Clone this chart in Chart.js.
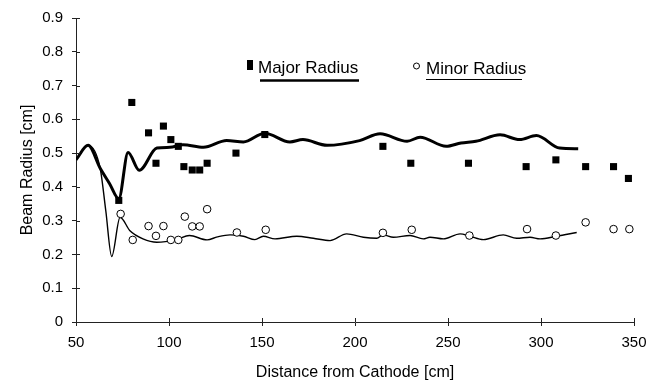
<!DOCTYPE html>
<html>
<head>
<meta charset="utf-8">
<script src="https://cdn.jsdelivr.net/npm/chart.js@4.4.1/dist/chart.umd.min.js"></script>
<style>
  html, body { margin: 0; padding: 0; background: #fff; }
</style>
</head>
<body>
<canvas id="chart" width="664" height="383"></canvas>
<script>
// Measured points
const majorX = [73, 80, 89, 93, 97, 101, 105, 108, 112.5, 116.5, 120.5, 136, 151.5, 215, 230, 261, 292, 308, 324, 339, 347];
const majorR = [0.36, 0.65, 0.56, 0.47, 0.58, 0.54, 0.52, 0.46, 0.45, 0.45, 0.47, 0.50, 0.555, 0.52, 0.47, 0.47, 0.46, 0.48, 0.46, 0.46, 0.425];
const minorX = [74, 80.5, 89, 93, 97, 101, 105, 108.5, 112.5, 116.5, 120.5, 136.5, 152, 215, 230.5, 261.5, 292.5, 308, 324, 339, 347.5];
const minorR = [0.32, 0.243, 0.284, 0.255, 0.284, 0.243, 0.243, 0.312, 0.283, 0.283, 0.334, 0.265, 0.273, 0.264, 0.273, 0.256, 0.275, 0.256, 0.295, 0.275, 0.275];

// Simulated envelopes
const simMajorX = [50, 56.5, 63, 68, 73, 78, 84, 93.5, 100.5, 107.5, 118.5, 131, 140, 151.5, 165, 172, 185, 202.5, 213.5, 228, 235, 249, 257, 265, 278, 288.5, 297.5, 310, 320];
const simMajorR = [0.48, 0.523, 0.455, 0.41, 0.365, 0.502, 0.449, 0.515, 0.517, 0.525, 0.517, 0.537, 0.533, 0.559, 0.533, 0.54, 0.523, 0.537, 0.557, 0.535, 0.547, 0.52, 0.53, 0.535, 0.554, 0.54, 0.552, 0.515, 0.513];
const simMinorX = [50, 56.5, 63, 66, 69.2, 73.7, 79, 86, 93.5, 104, 111, 120.5, 126, 132.8, 140, 146.2, 150.7, 157, 168.7, 177.6, 186.6, 195.5, 204.5, 211.7, 215.2, 220.6, 229.6, 236.7, 240.3, 247.5, 256.5, 261.8, 269, 279.7, 286.9, 294.1, 299.5, 308.4, 319.2];
const simMinorR = [0.48, 0.523, 0.455, 0.33, 0.194, 0.31, 0.27, 0.246, 0.236, 0.244, 0.256, 0.243, 0.252, 0.258, 0.254, 0.244, 0.254, 0.246, 0.254, 0.248, 0.241, 0.261, 0.251, 0.248, 0.258, 0.251, 0.256, 0.246, 0.251, 0.246, 0.261, 0.254, 0.244, 0.258, 0.248, 0.251, 0.246, 0.254, 0.265];

// Axes
const xTicks = [50, 100, 150, 200, 250, 300, 350];
const yTicks = [0, 0.1, 0.2, 0.3, 0.4, 0.5, 0.6, 0.7, 0.8, 0.9];
const yTickLabels = ['0', '0.1', '0.2', '0.3', '0.4', '0.5', '0.6', '0.7', '0.8', '0.9'];
const legendLabels = ['Major Radius', 'Minor Radius'];

const FONT = "'Liberation Sans', Arial, Helvetica, sans-serif";
const pts = (xs, ys) => xs.map((x, i) => ({ x, y: ys[i] }));

/* ticks that cross the axis line: draw the inner half */
const innerTicks = {
  id: 'innerTicks',
  afterDraw(chart) {
    const { ctx, chartArea: a, scales: { x, y } } = chart;
    ctx.save();
    ctx.strokeStyle = '#222';
    ctx.lineWidth = 1;
    ctx.beginPath();
    yTicks.forEach((v) => {
      const py = Math.round(y.getPixelForValue(v)) + 0.5;
      ctx.moveTo(a.left, py); ctx.lineTo(a.left + 4, py);
    });
    xTicks.forEach((v) => {
      const px = Math.round(x.getPixelForValue(v)) + 0.5;
      ctx.moveTo(px, a.bottom); ctx.lineTo(px, a.bottom - 4);
    });
    ctx.stroke();
    ctx.restore();
  },
};

/* legend: marker + label, underlined with the line style */
const markLegend = {
  id: 'markLegend',
  afterDraw(chart) {
    const ctx = chart.ctx;
    ctx.save();
    ctx.fillStyle = '#000';
    ctx.strokeStyle = '#000';
    ctx.font = '17px ' + FONT;
    ctx.textBaseline = 'alphabetic';
    // major
    ctx.fillRect(247, 60, 6, 10);
    ctx.fillText(legendLabels[0], 258, 73);
    ctx.lineWidth = 2.5;
    ctx.beginPath(); ctx.moveTo(260, 80.5); ctx.lineTo(359, 80.5); ctx.stroke();
    // minor
    ctx.lineWidth = 1;
    ctx.fillStyle = '#fff';
    ctx.beginPath(); ctx.arc(416.5, 66, 3, 0, Math.PI * 2); ctx.fill(); ctx.stroke();
    ctx.fillStyle = '#000';
    ctx.fillText(legendLabels[1], 426, 74);
    ctx.beginPath(); ctx.moveTo(426, 79.5); ctx.lineTo(522, 79.5); ctx.stroke();
    ctx.restore();
  },
};

new Chart(document.getElementById('chart'), {
  type: 'scatter',
  data: {
    datasets: [
      { label: legendLabels[0], data: pts(majorX, majorR), pointStyle: 'rect', pointRadius: 5,
        backgroundColor: '#000', borderColor: '#000', borderWidth: 0, order: 0 },
      { label: legendLabels[1], data: pts(minorX, minorR), pointStyle: 'circle', pointRadius: 3.8,
        backgroundColor: '#fff', borderColor: '#000', borderWidth: 1, order: 0 },
      { label: 'sim major', data: pts(simMajorX, simMajorR), showLine: true, pointRadius: 0,
        borderColor: '#000', borderWidth: 3, cubicInterpolationMode: 'monotone', order: 1 },
      { label: 'sim minor', data: pts(simMinorX, simMinorR), showLine: true, pointRadius: 0,
        borderColor: '#000', borderWidth: 1.4, cubicInterpolationMode: 'monotone', order: 1 },
    ],
  },
  options: {
    responsive: false,
    animation: false,
    devicePixelRatio: 1,
    layout: { padding: { left: 0, top: 16, right: 30, bottom: 0 } },
    plugins: { legend: { display: false }, tooltip: { enabled: false } },
    scales: {
      x: {
        type: 'linear', min: 50, max: 350,
        afterBuildTicks: (s) => { s.ticks = xTicks.map((v) => ({ value: v })); },
        afterFit: (s) => { s.height = 61; },
        grid: { display: true, drawOnChartArea: false, tickLength: 4, color: '#222' },
        border: { color: '#222', width: 1 },
        ticks: { color: '#000', padding: 8, maxRotation: 0, font: { family: FONT, size: 15 },
          callback: (v) => String(v) },
        title: { display: true, text: 'Distance from Cathode [cm]', color: '#000',
          font: { family: FONT, size: 16 }, padding: { top: 0, bottom: 1 } },
      },
      y: {
        type: 'linear', min: 0, max: 0.9,
        afterBuildTicks: (s) => { s.ticks = yTicks.map((v) => ({ value: v })); },
        afterFit: (s) => { s.width = 76; },
        grid: { display: true, drawOnChartArea: false, tickLength: 4, color: '#222' },
        border: { color: '#222', width: 1 },
        ticks: { color: '#000', padding: 9, font: { family: FONT, size: 15 },
          callback: (v, i) => yTickLabels[i] },
        title: { display: true, text: 'Beam Radius [cm]', color: '#000',
          font: { family: FONT, size: 16 }, padding: { top: 18, bottom: 0 } },
      },
    },
  },
  plugins: [innerTicks, markLegend],
});
</script>
</body>
</html>
